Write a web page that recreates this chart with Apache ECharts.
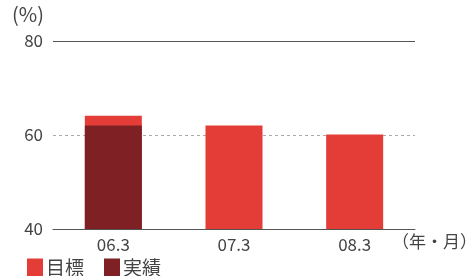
<!DOCTYPE html>
<html>
<head>
<meta charset="utf-8">
<script src="https://cdn.jsdelivr.net/npm/echarts@6/dist/echarts.min.js"></script>
<style>
html,body{margin:0;padding:0;background:#fff;}
#main{width:475px;height:276px;}
</style>
</head>
<body>
<div id="main"></div>
<script>
var categories = ['06.3', '07.3', '08.3'];
var targetValues = [64.1, 62.0, 60.1];
var actualValues = [62.0, null, null];
var yTicks = [40, 60, 80];

var font = '"Noto Sans CJK JP", "Noto Sans", sans-serif';

var chart = echarts.init(document.getElementById('main'));

var option = {
    backgroundColor: '#fff',
    animation: false,
    textStyle: { fontFamily: font },
    grid: { left: 53, right: 60, top: 41, bottom: 47 },
    legend: {
        left: 22, top: 253,
        itemWidth: 16, itemHeight: 18, itemGap: 20,
        icon: 'rect',
        textStyle: { fontSize: 19, color: '#444', padding: [0, 0, 0, -2] },
        data: ['目標', '実績']
    },
    xAxis: {
        type: 'category',
        data: categories,
        axisLine: { lineStyle: { color: '#555', width: 1 } },
        axisTick: { show: false },
        axisLabel: { color: '#444', fontSize: 17, margin: 7 }
    },
    yAxis: {
        type: 'value',
        min: yTicks[0], max: yTicks[yTicks.length - 1], interval: 20,
        axisLine: { show: false },
        axisTick: { show: false },
        axisLabel: { color: '#444', fontSize: 17, margin: 10 },
        splitLine: { lineStyle: { color: '#aaa', type: [3, 3], width: 1 } }
    },
    graphic: [
        { type: 'text', left: 12, top: 4, style: { text: '(%)', fontSize: 20, fill: '#444', fontFamily: font } },
        { type: 'text', left: 392, top: 233, style: { text: '（年・月）', fontSize: 17, fill: '#444', fontFamily: font } }
    ],
    series: [
        {
            name: '目標',
            type: 'bar',
            data: targetValues,
            barWidth: 57,
            barGap: '-100%',
            itemStyle: { color: '#e43d37' },
            markLine: {
                silent: true,
                symbol: 'none',
                label: { show: false },
                lineStyle: { color: '#555', type: 'solid', width: 1 },
                data: [{ yAxis: 80 }]
            }
        },
        {
            name: '実績',
            type: 'bar',
            data: actualValues,
            barWidth: 57,
            barGap: '-100%',
            itemStyle: { color: '#7f2024' }
        }
    ]
};

chart.setOption(option);
</script>
</body>
</html>
